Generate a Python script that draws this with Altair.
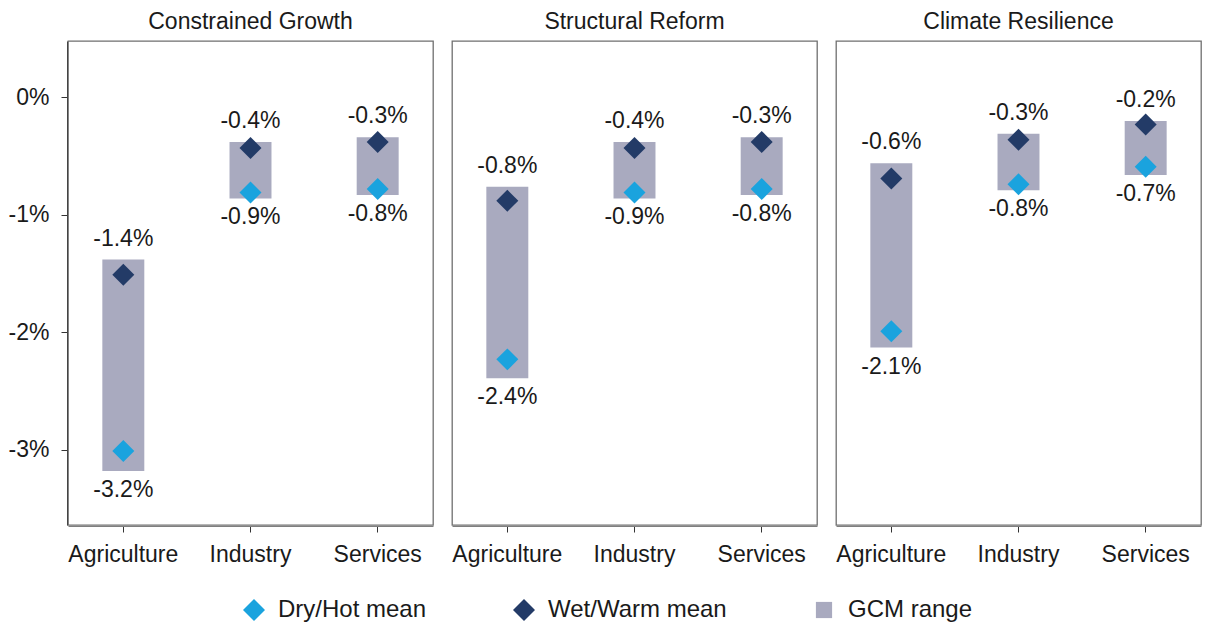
import altair as alt
import pandas as pd

scenarios = ["Constrained Growth", "Structural Reform", "Climate Resilience"]
sectors = ["Agriculture", "Industry", "Services"]

# values in percent, one row per scenario, columns follow `sectors`
gcm_high = [[-1.38, -0.38, -0.34], [-0.76, -0.38, -0.34], [-0.56, -0.31, -0.20]]
gcm_low = [[-3.18, -0.86, -0.83], [-2.39, -0.86, -0.83], [-2.13, -0.79, -0.66]]
wet_mean = [[-1.51, -0.43, -0.38], [-0.88, -0.43, -0.38], [-0.69, -0.36, -0.23]]
dry_mean = [[-3.01, -0.81, -0.78], [-2.23, -0.81, -0.78], [-1.99, -0.74, -0.59]]

series_names = ["Dry/Hot mean", "Wet/Warm mean", "GCM range"]
series_colors = ["#1AA3DE", "#233B67", "#A9AABF"]
series_shapes = [
    "M-1.22,0L0,-1.22L1.22,0L0,1.22Z",
    "M-1.22,0L0,-1.22L1.22,0L0,1.22Z",
    "M-0.9,-0.9L0.9,-0.9L0.9,0.9L-0.9,0.9Z",
]

rows = []
for i, sc in enumerate(scenarios):
    for j, se in enumerate(sectors):
        rows.append(dict(scenario=sc, sector=se, series="GCM range",
                         lo=gcm_low[i][j] / 100, hi=gcm_high[i][j] / 100, value=None))
        rows.append(dict(scenario=sc, sector=se, series="Dry/Hot mean",
                         lo=None, hi=None, value=dry_mean[i][j] / 100))
        rows.append(dict(scenario=sc, sector=se, series="Wet/Warm mean",
                         lo=None, hi=None, value=wet_mean[i][j] / 100))
df = pd.DataFrame(rows)

FONT = "Liberation Sans"
FS = 23
TXT = "#1a1a1a"

yscale = alt.Scale(domain=[-0.0364, 0.0048], nice=False, zero=False)
xenc = alt.X(
    "sector:N", sort=sectors,
    scale=alt.Scale(paddingInner=0.67, paddingOuter=0.27),
    axis=alt.Axis(title=None, labelAngle=0, tickSize=6, labelPadding=11,
                  domainColor="#7f7f7f", tickColor="#333333"),
)
color_enc = alt.Color(
    "series:N",
    scale=alt.Scale(domain=series_names, range=series_colors),
    legend=alt.Legend(title=None, orient="none", direction="horizontal",
                      legendX=174, legendY=557, symbolSize=324,
                      labelOffset=12, columnPadding=85, labelFontSize=24,
                      labelFont=FONT, labelColor=TXT, symbolStrokeWidth=0,
                      labelLimit=400),
)

base = alt.Chart(df)

bars = base.transform_filter(alt.datum.series == "GCM range").mark_bar().encode(
    x=xenc,
    y=alt.Y("lo:Q", scale=yscale,
            axis=alt.Axis(title=None, values=[-0.03, -0.02, -0.01, 0],
                          labelExpr="(datum.value < 0 ? '-' : '') + format(abs(datum.value), '.0%')",
                          tickSize=6, labelPadding=12, grid=False,
                          domainColor="#222222", tickColor="#333333")),
    y2="hi:Q",
    color=color_enc,
)

points = base.transform_filter(alt.datum.series != "GCM range").mark_point(
    filled=True, size=324, opacity=1, strokeWidth=0
).encode(
    x=xenc,
    y=alt.Y("value:Q", scale=yscale),
    color=color_enc,
    shape=alt.Shape("series:N",
                    scale=alt.Scale(domain=series_names, range=series_shapes),
                    legend=None),
)

top_text = base.transform_filter(alt.datum.series == "GCM range").transform_calculate(
    lab="(datum.hi < 0 ? '-' : '') + format(abs(datum.hi), '.1%')"
).mark_text(baseline="bottom", dy=-9, fontSize=FS, font=FONT, color=TXT).encode(
    x=xenc, y=alt.Y("hi:Q", scale=yscale), text="lab:N"
)

bottom_text = base.transform_filter(alt.datum.series == "GCM range").transform_calculate(
    lab="(datum.lo < 0 ? '-' : '') + format(abs(datum.lo), '.1%')"
).mark_text(baseline="top", dy=8, fontSize=FS, font=FONT, color=TXT).encode(
    x=xenc, y=alt.Y("lo:Q", scale=yscale), text="lab:N"
)

layered = alt.layer(bars, points, top_text, bottom_text).properties(width=365, height=484)

chart = layered.facet(
    column=alt.Column("scenario:N", sort=scenarios, title=None,
                      header=alt.Header(labelFontSize=FS, labelFont=FONT,
                                        labelColor=TXT, labelPadding=6)),
    spacing=17,
).resolve_scale(y="shared").properties(
    padding={"top": 3, "left": 0, "right": 0, "bottom": 0}
).configure_view(
    stroke="#6f6f6f", strokeWidth=1.3
).configure_axis(
    labelFont=FONT, labelFontSize=FS, labelColor=TXT, grid=False
)

chart.save("out.html", embed_options={"renderer": "svg", "actions": False})
